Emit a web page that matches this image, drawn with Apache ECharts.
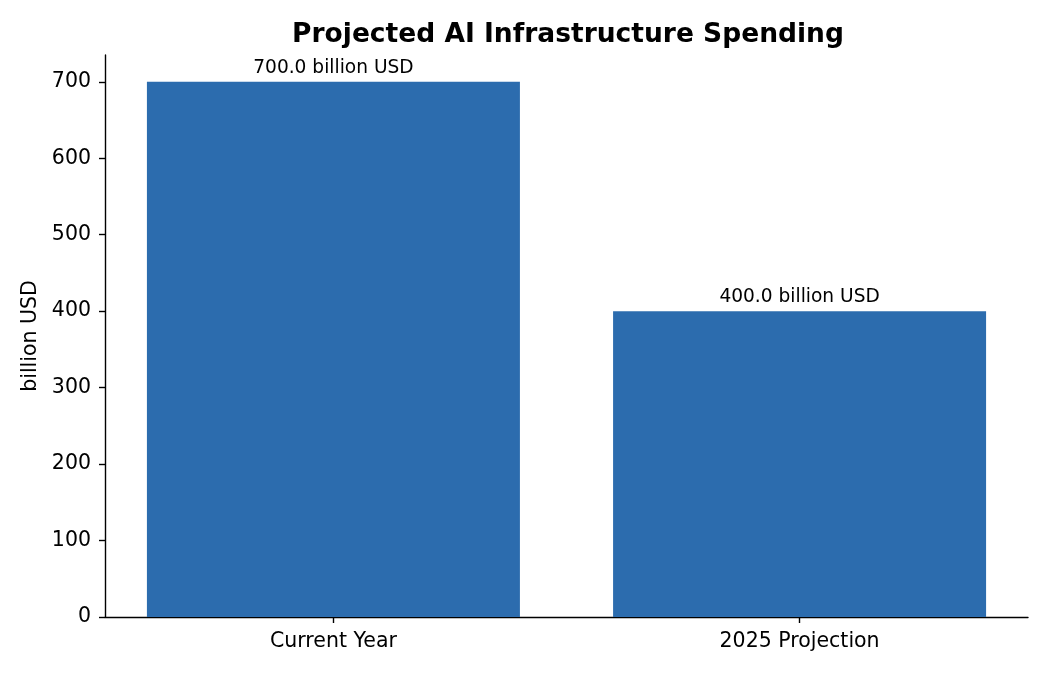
<!DOCTYPE html>
<html>
<head>
<meta charset="utf-8">
<script src="https://cdn.jsdelivr.net/npm/echarts@6/dist/echarts.min.js"></script>
<style>
html,body{margin:0;padding:0;background:#fff;}
#chart{width:1050px;height:675px;}
</style>
</head>
<body>
<div id="chart"></div>
<script>
const categories = ["Current Year", "2025 Projection"];
const spending = [700, 400];
const yTicks = [0, 100, 200, 300, 400, 500, 600, 700];

const FONT = "'DejaVu Sans'";
const catIdx = categories.map((c, i) => i);
const chart = echarts.init(document.getElementById('chart'));
chart.setOption({
  animation: false,
  backgroundColor: '#fff',
  title: {
    text: 'Projected AI Infrastructure Spending',
    left: 563, top: 17, textAlign: 'center',
    textStyle: {fontFamily: FONT, fontSize: 26.5, fontWeight: 'bold', color: '#000'}
  },
  grid: {left: 105, right: 22, top: 55, bottom: 58, containLabel: false},
  xAxis: {
    type: 'value',
    min: -0.49, max: 1.49,
    splitLine: {show: false},
    axisLine: {show: true, onZero: false, lineStyle: {color: '#000', width: 1.4}},
    axisTick: {show: true, customValues: catIdx, length: 6, lineStyle: {color: '#000', width: 1.4}},
    axisLabel: {
      customValues: catIdx,
      fontFamily: FONT, fontSize: 20.5, color: '#000', margin: 14,
      formatter: v => categories[Math.round(v)] || ''
    }
  },
  yAxis: {
    type: 'value',
    min: 0, max: 735,
    name: 'billion USD',
    nameLocation: 'middle', nameGap: 62,
    nameTextStyle: {fontFamily: FONT, fontSize: 20.5, color: '#000'},
    splitLine: {show: false},
    axisLine: {show: true, onZero: false, lineStyle: {color: '#000', width: 1.4}},
    axisTick: {show: true, customValues: yTicks, length: 6, lineStyle: {color: '#000', width: 1.4}},
    axisLabel: {
      customValues: yTicks,
      fontFamily: FONT, fontSize: 20.5, color: '#000', margin: 14
    }
  },
  series: [{
    type: 'bar',
    data: spending.map((v, i) => [i, v]),
    barWidth: 373,
    itemStyle: {color: '#2c6cae'},
    label: {
      show: true, position: 'top', distance: 4,
      fontFamily: FONT, fontSize: 18.6, color: '#000',
      formatter: p => p.value[1].toFixed(1) + ' billion USD'
    }
  }]
});
</script>
</body>
</html>
